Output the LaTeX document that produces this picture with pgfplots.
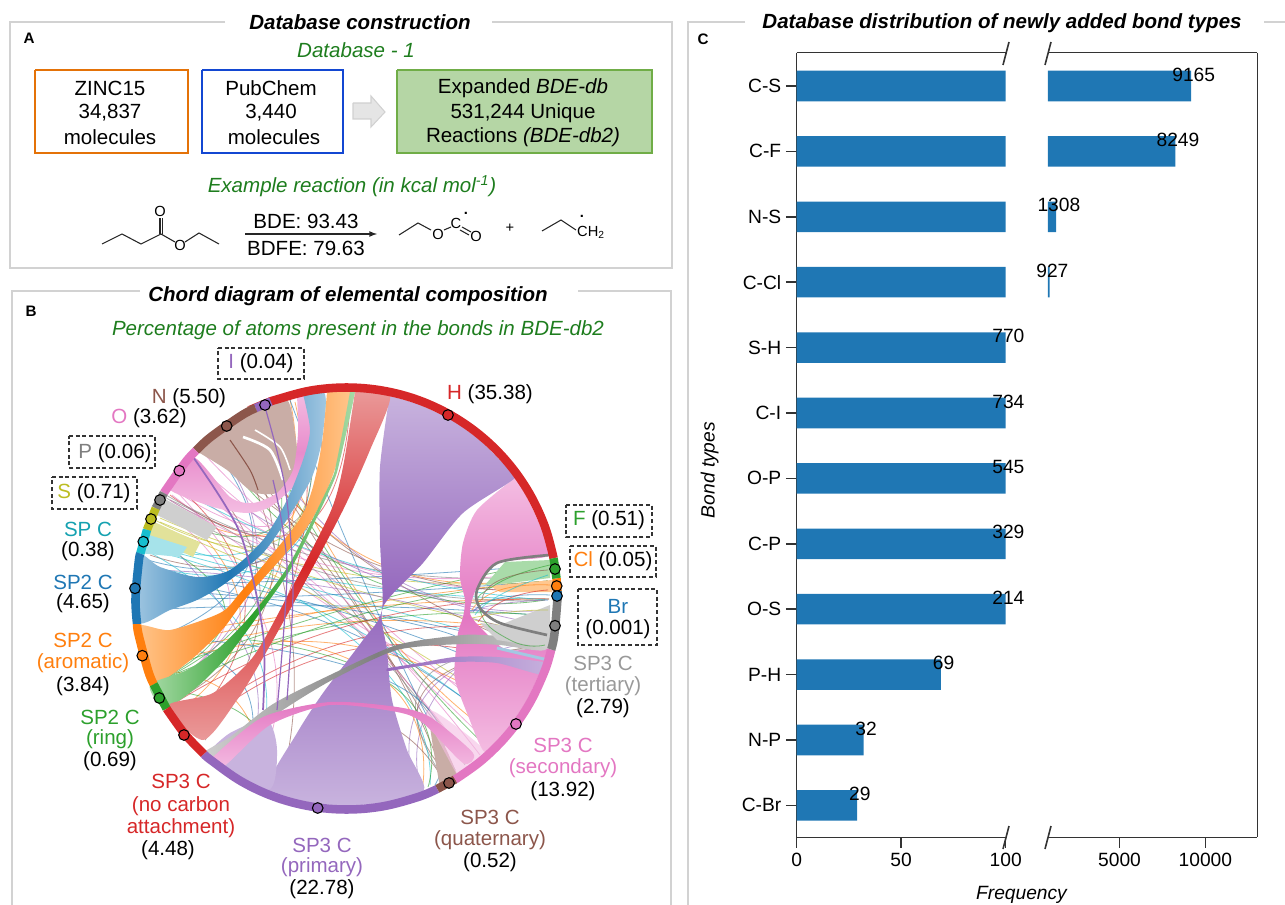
\documentclass[border=0pt]{standalone}
\usepackage{fontspec}
\setmainfont{Liberation Sans}
\usepackage{pgfplots}
\usepackage{pgfplotstable}
\pgfplotsset{compat=1.18}

\definecolor{cred}{HTML}{D62728}
\definecolor{cblue}{HTML}{1F77B4}
\definecolor{corange}{HTML}{FF7F0E}
\definecolor{cgreen}{HTML}{2CA02C}
\definecolor{cpurple}{HTML}{9467BD}
\definecolor{cbrown}{HTML}{8C564B}
\definecolor{cpink}{HTML}{E377C2}
\definecolor{cgray}{HTML}{7F7F7F}
\definecolor{colive}{HTML}{BCBD22}
\definecolor{ccyan}{HTML}{17BECF}
\definecolor{lred}{HTML}{EA9A9A}
\definecolor{lblue}{HTML}{A3C8E2}
\definecolor{lorange}{HTML}{FFC78F}
\definecolor{lgreen}{HTML}{A9DBA9}
\definecolor{lpurple}{HTML}{C8B3DE}
\definecolor{lbrown}{HTML}{C9ADA6}
\definecolor{lpink}{HTML}{F4BDE2}
\definecolor{lgray}{HTML}{CFCFCF}
\definecolor{lolive}{HTML}{E2E29A}
\definecolor{lcyan}{HTML}{A6E3EA}
\definecolor{frame}{HTML}{D2D2D2}
\definecolor{dkgreen}{HTML}{1E7D1E}
\definecolor{axcol}{HTML}{333333}

\newcommand\fa{\fontsize{15.4}{18}\selectfont}
\newcommand\fb{\fontsize{14.4}{17}\selectfont}
\newcommand\fc{\fontsize{11}{13}\selectfont}
\newcommand\tx[3]{\node[font=\fa,inner sep=0pt] at (axis cs:#1,#2) {#3};}
\newcommand\sm[3]{\node[font=\fc,inner sep=0pt] at (axis cs:#1,#2) {#3};}
\newcommand\ch[2]{\addplot[chord,draw=#1] coordinates {#2};}
\newcommand\mk[3]{\addplot[only marks,mark=*,mark size=4pt,mark options={fill=#1,draw=black,line width=.8pt}] coordinates {(#2,#3)};}
\newcommand\seg[2]{\addplot[draw=#1,line width=6.4pt,smooth,tension=.6] coordinates {#2};}
\newcommand\dbox[4]{\addplot[black!80,densely dashed,line width=.9pt] coordinates {(#1,#3)(#2,#3)(#2,#4)(#1,#4)(#1,#3)};}

\tikzset{
  chord/.style={smooth,tension=1,line width=.6pt,opacity=.6},
  rib/.style={draw=none,smooth,tension=.45},
  pan/.style={frame,line width=1.6pt},
  mol/.style={black!85,line width=.8pt},
}

% bars, left of the break: bar length is cut at 100
\pgfplotstableread{
y shown value
0 100 9165
1 100 8249
2 100 1308
3 100 927
}\barstop
\pgfplotstableread{
y shown value
4 100 770
5 100 734
6 100 545
7 100 329
8 100 214
9 69 69
10 32 32
11 29 29
}\barslow
\pgfplotstableread{
y value
0 9165
1 8249
2 1308
3 927
}\barsright

\begin{document}
\begin{tikzpicture}
\path[use as bounding box] (0,0) rectangle (963.75pt,678.75pt);
\begin{axis}[at={(0,0)},anchor=south west,scale only axis,width=963.75pt,height=678.75pt,
  xmin=0,xmax=1285,ymin=0,ymax=905,y dir=reverse,hide axis,clip=false]

% panel frames
\addplot[pan] coordinates {(225,22)(10,22)(10,268)(672,268)(672,22)(492,22)};
\addplot[pan] coordinates {(140,291)(12,291)(12,905)};
\addplot[pan] coordinates {(578,291)(671,291)(671,905)};
\addplot[pan] coordinates {(745,22)(688,22)(688,905)};
\addplot[pan] coordinates {(1264,22)(1285,22)};

% panel A
\tx{360}{22}{\textbf{\textit{Database construction}}}
\node[font=\fontsize{11.4}{13}\selectfont\bfseries] at (axis cs:29,38) {A};
\tx{356}{50}{\textcolor{dkgreen}{\textit{Database - 1}}}
\addplot[draw=corange!85!black!70!orange,line width=1.6pt] coordinates {(35,70)(188,70)(188,153)(35,153)(35,70)};
\addplot[draw=blue!40!cblue,line width=1.6pt] coordinates {(202,70)(343,70)(343,153)(202,153)(202,70)};
\addplot[draw={rgb,255:red,112;green,173;blue,71},fill={rgb,255:red,181;green,214;blue,165},line width=1.6pt] coordinates {(397,70)(652,70)(652,153)(397,153)(397,70)};
\addplot[draw=black!18,fill=black!10,line width=.8pt] coordinates {(353,103)(371,103)(371,96)(385,112)(371,127)(371,119)(353,119)(353,103)};
\tx{110}{88}{ZINC15}
\tx{110}{113}{34,837}
\tx{110}{137}{molecules}
\tx{271}{88}{PubChem}
\tx{271}{113}{3,440}
\tx{274}{137}{molecules}
\tx{523}{88}{Expanded \textit{BDE-db}}
\tx{523}{113}{531,244 Unique}
\tx{523}{137}{Reactions \textit{(BDE-db2)}}
\tx{352}{186}{\textcolor{dkgreen}{\textit{Example reaction (in kcal mol\textsuperscript{-1})}}}
% ester
\addplot[mol] coordinates {(102,244)(122,234)(141,244)(161,234)(175,242)};
\addplot[mol] coordinates {(185,242)(199,233)(219,244)};
\addplot[mol] coordinates {(160,234)(160,218)};
\addplot[mol] coordinates {(162.5,234)(162.5,218)};
\sm{160}{211}{O}
\sm{180}{245}{O}
\addplot[black!85,line width=1pt,-latex] coordinates {(245,234)(377,234)};
\tx{306}{221}{BDE: 93.43}
\tx{306}{248}{BDFE: 79.63}
% radicals
\addplot[mol] coordinates {(399,235)(418,223)(431,230)};
\addplot[mol] coordinates {(444,230)(451,227)};
\addplot[mol] coordinates {(462,227)(471,232)};
\addplot[mol] coordinates {(460,230)(469,235)};
\sm{438}{234}{O}
\sm{456}{223}{C}
\sm{476}{236}{O}
\node[font=\fc\bfseries,inner sep=0pt] at (axis cs:466,213) {.};
\sm{510}{228}{+}
\addplot[mol] coordinates {(542,231)(561,220)(576,230)};
\sm{591}{232}{CH\textsubscript{2}}
\node[font=\fc\bfseries,inner sep=0pt] at (axis cs:582,216) {.};

% panel B
\tx{348}{296}{\textbf{\textit{Chord diagram of elemental composition}}}
\node[font=\fontsize{11.4}{13}\selectfont\bfseries] at (axis cs:31,311) {B};
\tx{358}{330}{\textcolor{dkgreen}{\textit{Percentage of atoms present in the bonds in BDE-db2}}}

% thin chords
\ch{cgreen}{(160,515)(276,525)(285,402)}
\ch{ccyan}{(150,545)(275,535)(272,403)}
\ch{corange}{(165,505)(283,527)(295,402)}
\ch{cpink}{(175,490)(285,520)(305,400)}
\ch{cgray}{(165,497)(290,525)(320,398)}
\ch{colive}{(155,520)(285,535)(310,398)}
\ch{cblue}{(148,560)(284,545)(308,400)}
\ch{cbrown}{(150,555)(290,545)(330,397)}
\ch{cred}{(170,495)(300,530)(350,398)}
\ch{ccyan}{(148,565)(290,550)(325,398)}
\ch{corange}{(170,690)(278,570)(290,400)}
\ch{cgreen}{(160,680)(270,575)(265,410)}
\ch{cred}{(185,720)(290,590)(300,395)}
\ch{cbrown}{(175,700)(270,590)(240,425)}
\ch{cpurple}{(165,690)(255,575)(215,445)}
\ch{cblue}{(150,640)(250,560)(210,445)}
\ch{corange}{(165,500)(240,610)(180,710)}
\ch{cpink}{(160,510)(230,600)(165,690)}
\ch{cgreen}{(150,540)(225,610)(160,680)}
\ch{cred}{(175,485)(245,600)(190,725)}
\ch{cbrown}{(190,465)(260,590)(205,740)}
\ch{cpurple}{(155,530)(250,660)(240,765)}
\ch{cpink}{(175,490)(270,640)(255,775)}
\ch{cbrown}{(230,428)(290,620)(280,785)}
\ch{ccyan}{(145,550)(255,650)(250,770)}
\ch{cblue}{(150,640)(240,680)(245,770)}
\ch{corange}{(155,670)(235,700)(260,780)}
\ch{cgreen}{(165,690)(250,720)(275,785)}
\ch{cbrown}{(240,425)(360,610)(455,770)}
\ch{cbrown}{(230,430)(345,600)(470,760)}
\ch{cpink}{(185,480)(340,605)(490,745)}
\ch{cpink}{(195,465)(345,600)(480,755)}
\ch{cpink}{(205,455)(350,595)(505,725)}
\ch{cpink}{(172,495)(335,610)(512,715)}
\ch{cpink}{(180,485)(340,612)(470,762)}
\ch{cgray}{(170,500)(330,605)(465,765)}
\ch{cbrown}{(215,445)(355,605)(445,780)}
\ch{cgreen}{(250,415)(360,600)(485,745)}
\ch{corange}{(260,410)(370,610)(495,735)}
\ch{cblue}{(290,400)(372,600)(455,770)}
\ch{colive}{(160,518)(350,574)(548,581)}
\ch{colive}{(160,522)(349,588)(545,634)}
\ch{colive}{(158,526)(341,609)(512,714)}
\ch{ccyan}{(152,540)(348,584)(549,599)}
\ch{ccyan}{(151,546)(346,598)(542,651)}
\ch{ccyan}{(150,550)(336,619)(501,728)}
\ch{cblue}{(146,570)(342,612)(530,684)}
\ch{cblue}{(145,590)(345,609)(542,651)}
\ch{cblue}{(146,610)(346,606)(548,616)}
\ch{cblue}{(145,600)(346,594)(548,581)}
\ch{cblue}{(146,580)(335,626)(501,728)}
\ch{corange}{(147,640)(347,609)(549,599)}
\ch{corange}{(150,650)(348,607)(548,581)}
\ch{corange}{(152,660)(347,622)(545,634)}
\ch{corange}{(155,668)(340,644)(512,714)}
\ch{cgreen}{(158,672)(349,608)(545,563)}
\ch{cgreen}{(162,680)(351,623)(548,616)}
\ch{cgreen}{(168,692)(352,617)(548,581)}
\ch{cred}{(175,703)(354,624)(549,599)}
\ch{cred}{(190,725)(357,639)(545,634)}
\ch{cred}{(195,730)(356,649)(536,668)}
\ch{cgray}{(166,495)(350,565)(546,575)}
\ch{cgray}{(163,505)(350,580)(545,600)}
\ch{cpink}{(170,500)(350,570)(548,570)}
\ch{cpink}{(180,480)(350,565)(545,590)}
\ch{cbrown}{(210,450)(365,560)(548,590)}
\ch{cbrown}{(225,430)(370,565)(540,650)}
\ch{cpurple}{(245,420)(380,570)(545,610)}
\ch{cpurple}{(148,570)(345,590)(545,640)}
\ch{cgreen}{(215,445)(360,575)(545,600)}
\ch{corange}{(235,425)(372,560)(545,575)}
\ch{cblue}{(145,585)(350,578)(548,565)}
\ch{ccyan}{(180,490)(355,565)(548,600)}
\ch{cpurple}{(190,470)(360,570)(546,625)}
\ch{cpurple}{(415,790)(430,690)(545,640)}
\ch{cpurple}{(420,785)(440,690)(548,610)}
\ch{cbrown}{(448,775)(425,690)(545,645)}
\ch{cgray}{(445,780)(424,680)(545,650)}
\ch{ccyan}{(430,785)(400,690)(300,600)}
\ch{corange}{(422,790)(395,690)(280,640)}
\ch{cgreen}{(428,787)(398,690)(250,640)}
\ch{cblue}{(435,785)(405,690)(200,640)}
\ch{cbrown}{(220,763)(280,717)(330,710)(397,730)(443,780)}
\ch{cblue}{(383,617)(430,628)(455,636)}

% left fans
\addplot[fill=lgray,draw=none] coordinates {(163,498)(153,513)(207,540)(217,527)};
\addplot[fill=lolive,draw=none] coordinates {(150,520)(143,532)(193,557)(200,543)};
\addplot[fill=lcyan,draw=none] coordinates {(143,533)(138,553)(180,557)(187,547)};

% big ribbons: secondary-H and primary-H
\addplot[rib,top color=lpink,bottom color=lpink,middle color=cpink] coordinates {(514.8,478)(477,510)(463,543)(460,577)(465,600)(463,617)(458,633)(455,660)(455,680)(467,713)(485,752.3)(505,731.6)(525.8,702)(541,669.3)(547.3,648.6)(507,650)(483,630)(470,613)(477,587)(497,563)(549,555.5)(541,527.7)(525.8,495)(514.8,478)};
\addplot[rib,top color=lpurple,bottom color=lpurple,middle color=cpurple] coordinates {(389.5,396)(380,467)(380,540)(382,610)(363,640)(323,693)(297,733)(267,789.6)(310.6,802.4)(346.5,805.5)(382.4,802.4)(424,790.4)(407,750)(392,700)(387,650)(383,607)(423,563)(463,513)(514.8,478)(505,465.4)(479.6,440)(450,419.2)(417.3,404)(389.5,396)};
\addplot[rib,fill=lpurple] coordinates {(205,755)(268,790)(277,750)(267,720)(230,733)(205,755)};
\addplot[rib,fill=lbrown] coordinates {(440,787)(458,778)(430,720)(440,787)};
\addplot[rib,fill=lpink,opacity=.6] coordinates {(457,775)(485,752)(437,713)(427,717)(457,775)};

% brown blob and O band
\addplot[rib,fill=lbrown] coordinates {(198,452)(257,408)(287,400)(295,433)(297,467)(280,492)(253,492)(227,470)(198,452)};
\addplot[white,line width=2pt,smooth] coordinates {(243,437)(270,450)(283,480)};
\addplot[white,line width=1.2pt,smooth] coordinates {(255,430)(280,447)(290,470)};
\addplot[draw=cbrown,line width=.8pt,smooth] coordinates {(230,440)(250,470)(258,490)};
\addplot[rib,top color=lpink,bottom color=lpink,middle color=cpink!70!lpink] coordinates {(297,396)(298,433)(293,470)(277,493)(253,503)(230,497)(193,457)(167,487)(213,507)(247,513)(270,507)(293,487)(307,467)(312,433)(310,396)(297,396)};

% blue, orange, green and red bands
\addplot[rib,left color=lblue,right color=lblue,middle color=cblue] coordinates {(303,394)(310,430)(303,460)(287,500)(263,540)(230,570)(197,577)(160,567)(137,555)(137,622)(170,610)(197,600)(223,585)(263,553)(293,510)(312,477)(322,440)(325,394)(303,394)};
\addplot[rib,left color=lorange,right color=lorange,middle color=corange] coordinates {(327,392)(322,443)(312,490)(297,523)(240,593)(220,613)(170,630)(136,627)(150,684)(187,663)(222,630)(247,597)(303,533)(327,490)(343,443)(352,392)(327,392)};
\addplot[rib,left color=lgreen,right color=lgreen,middle color=cgreen] coordinates {(350,392)(337,460)(330,483)(290,563)(253,613)(220,647)(187,670)(150,685)(165,708)(197,687)(227,657)(257,617)(293,565)(332,485)(340,460)(355,392)(350,392)};
\addplot[rib,top color=lred,bottom color=lred,middle color=cred] coordinates {(355,392)(343,467)(330,513)(287,597)(253,657)(213,693)(168,706)(203,740)(237,700)(260,663)(297,597)(343,510)(370,450)(390,396)(355,392)};

% lower bands
\addplot[rib,left color=lgray,right color=lgray,middle color=cgray] coordinates {(548,625)(500,635)(463,635)(397,645)(330,675)(273,704)(230,737)(205,752)(217,762)(240,745)(277,714)(332,680)(397,650)(463,644)(500,645)(545,650)(548,625)};
\addplot[rib,top color=cpink,bottom color=lpink] coordinates {(213,757)(263,717)(330,702)(397,707)(430,717)(473,753)(463,763)(423,723)(397,712)(330,705)(270,725)(223,767)(213,757)};
\addplot[rib,left color=cpurple,right color=lpurple] coordinates {(388,668)(420,663)(455,657)(497,657)(547,663)(543,675)(497,663)(455,662)(420,666)(388,671)(388,668)};
\addplot[draw=cpurple,line width=1.3pt,smooth] coordinates {(193,457)(240,533)(263,633)(263,710)};
\addplot[draw=cpurple,line width=.9pt,smooth] coordinates {(273,480)(287,567)(277,710)};
\addplot[draw=cpurple,line width=.9pt,smooth] coordinates {(263,400)(285,487)(293,587)(287,700)};

% right side fans and arcs
\addplot[fill=lgreen,draw=none] coordinates {(550,560)(550,578)(510,583)(485,585)(505,562)};
\addplot[fill=lorange,draw=none] coordinates {(552,580)(552,592)(500,592)(490,586)};
\addplot[fill=lgray,draw=none] coordinates {(550,605)(550,648)(497,640)(480,623)(500,625)};
\addplot[draw=lblue,line width=2.2pt] coordinates {(497,648)(548,660)};
\addplot[chord,draw=cgreen] coordinates {(550,565)(495,585)(480,610)(510,640)(545,645)};
\addplot[chord,draw=corange] coordinates {(550,585)(500,590)(472,610)};
\addplot[chord,draw=cblue] coordinates {(550,595)(500,598)(473,612)};
\addplot[chord,draw=cpurple] coordinates {(548,600)(500,604)(470,612)};
\addplot[chord,draw=ccyan] coordinates {(548,575)(500,595)(475,615)};
\addplot[chord,draw=colive] coordinates {(548,610)(510,612)(472,618)};
\addplot[chord,draw=cred] coordinates {(548,590)(505,600)(478,622)};
\addplot[chord,draw=cbrown] coordinates {(548,570)(500,580)(482,600)};
\addplot[draw=cgray,line width=2pt,smooth] coordinates {(550,555)(497,563)(477,590)(480,608)(500,623)(547,635)};

% ring
\seg{cred}{(553.6,558.2)(544.8,526.3)(529.2,493.0)(508.1,462.9)(482.1,436.9)(452.0,415.8)(418.7,400.2)(383.1,390.7)(346.5,387.5)(309.9,390.7)(274.3,400.2)(270.9,401.5)}
\seg{cpurple}{(270.9,401.5)(255.6,408.1)}
\seg{cbrown}{(255.6,408.1)(241.0,415.8)(210.9,436.9)(196,450.6)}
\seg{cpink}{(196,450.6)(184.9,462.9)(163.8,493)}
\seg{cgray}{(163.8,493)(155.7,508.3)}
\seg{colive}{(155.7,508.3)(147,529.8)}
\seg{ccyan}{(147,529.8)(140.3,553.6)}
\seg{cblue}{(140.3,553.6)(138.7,561.9)(135.5,598.5)(137.1,624.2)}
\seg{corange}{(137.1,624.2)(138.7,635.1)(148.2,670.7)(153.7,684.3)}
\seg{cgreen}{(153.7,684.3)(166.6,708.7)}
\seg{cred}{(166.6,708.7)(184.9,734.1)(204,754.1)}
\seg{cpurple}{(204,754.1)(210.9,760.1)(241.0,781.2)(274.3,796.8)(309.9,806.3)(346.5,809.5)(383.1,806.3)(418.7,796.8)(437.3,788.9)}
\seg{cbrown}{(437.3,788.9)(455.2,779.4)}
\seg{cpink}{(455.2,779.4)(482.1,760.1)(508.1,734.1)(529.2,704.0)(544.8,670.7)(551.2,649.5)}
\seg{cgray}{(551.2,649.5)(554.3,635.1)(557.5,598.5)(557.4,593)}
\seg{cblue}{(557.4,593)(557.3,591.1)}
\seg{corange}{(557.3,591.1)(556.5,578.3)}
\seg{cgreen}{(556.5,578.3)(553.6,558.2)}

% ring markers
\mk{cred}{448}{415}
\mk{cgreen}{555}{569}
\mk{corange}{556.7}{586}
\mk{cblue}{557}{596}
\mk{cgray}{555}{625.7}
\mk{cpink}{516}{724}
\mk{cbrown}{449}{783}
\mk{cpurple}{317.7}{808}
\mk{cred}{184}{735}
\mk{cgreen}{159.3}{698}
\mk{corange}{142.3}{655.7}
\mk{cblue}{135}{588.3}
\mk{ccyan}{143.3}{541.7}
\mk{colive}{151}{519}
\mk{cgray}{160}{500}
\mk{cpink}{179.3}{470.7}
\mk{cbrown}{226.7}{426}
\mk{cpurple}{265}{405}

% chord labels
\dbox{218}{304}{348}{379}
\dbox{69}{155}{436}{468}
\dbox{52}{137}{477}{509}
\dbox{566}{652}{505}{537}
\dbox{570}{656}{546}{577}
\dbox{578}{657}{589}{645}
\tx{261}{363}{\textcolor{cpurple}{I} (0.04)}
\tx{189}{398}{\textcolor{cbrown}{N} (5.50)}
\tx{149}{418}{\textcolor{cpink}{O} (3.62)}
\tx{115}{453}{\textcolor{cgray}{P} (0.06)}
\tx{94}{493}{\textcolor{colive}{S} (0.71)}
\tx{490}{394}{\textcolor{cred}{H} (35.38)}
\tx{609}{520}{\textcolor{cgreen}{F} (0.51)}
\tx{613}{561}{\textcolor{corange}{Cl} (0.05)}
\tx{618}{606}{\textcolor{cblue}{Br}}
\tx{618}{629}{(0.001)}
\tx{88}{529}{\textcolor{ccyan!85!black}{SP C}}
\tx{88}{551}{(0.38)}
\tx{83}{582}{\textcolor{cblue}{SP2 C}}
\tx{83}{603}{(4.65)}
\tx{83}{640}{\textcolor{corange}{SP2 C}}
\tx{83}{663}{\textcolor{corange}{(aromatic)}}
\tx{83}{686}{(3.84)}
\tx{110}{717}{\textcolor{cgreen}{SP2 C}}
\tx{110}{739}{\textcolor{cgreen}{(ring)}}
\tx{110}{761}{(0.69)}
\tx{181}{781}{\textcolor{cred}{SP3 C}}
\tx{181}{806}{\textcolor{cred}{(no carbon}}
\tx{181}{828}{\textcolor{cred}{attachment)}}
\tx{168}{850}{(4.48)}
\tx{322}{845}{\textcolor{cpurple}{SP3 C}}
\tx{322}{867}{\textcolor{cpurple}{(primary)}}
\tx{322}{889}{(22.78)}
\tx{490}{817}{\textcolor{cbrown}{SP3 C}}
\tx{490}{840}{\textcolor{cbrown}{(quaternary)}}
\tx{490}{862}{(0.52)}
\tx{563}{745}{\textcolor{cpink}{SP3 C}}
\tx{563}{768}{\textcolor{cpink}{(secondary)}}
\tx{563}{791}{(13.92)}
\tx{603}{663}{\textcolor{black!40}{SP3 C}}
\tx{603}{686}{\textcolor{black!40}{(tertiary)}}
\tx{603}{708}{(2.79)}

% panel C heading and axis breaks
\tx{1002}{23}{\textbf{\textit{Database distribution of newly added bond types}}}
\node[font=\fontsize{11.4}{13}\selectfont\bfseries] at (axis cs:703,39) {C};
\addplot[axcol,line width=1.2pt] coordinates {(1003,65)(1009,42)};
\addplot[axcol,line width=1.2pt] coordinates {(1045,65)(1051,42)};
\addplot[axcol,line width=1.2pt] coordinates {(1003,849)(1009,826)};
\addplot[axcol,line width=1.2pt] coordinates {(1045,849)(1051,826)};
\end{axis}

% bars left of the break
\begin{axis}[at={(597.45pt,50.775pt)},anchor=south west,scale only axis,width=156.8pt,height=588.45pt,
  xmin=0,xmax=100,ymin=-0.509,ymax=11.488,y dir=reverse,
  axis x line*=box,axis y line*=left,axis line style={axcol,line width=1.1pt},
  xbar,bar width=22.9pt,
  xtick={0,50,100},ytick={0,...,11},
  yticklabels={C-S,C-F,N-S,C-Cl,S-H,C-I,O-P,C-P,O-S,P-H,N-P,C-Br},
  xtick pos=bottom,ytick pos=left,tick align=outside,major tick length=8pt,
  tick style={axcol,line width=1.1pt},
  tick label style={font=\fb},
  /pgf/number format/assume math mode=true,
  xlabel={\textit{Frequency}},ylabel={\textit{Bond types}},
  x label style={at={(rel axis cs:1.078,0)},anchor=north,yshift=-33pt,font=\fb},
  y label style={at={(rel axis cs:0,.468)},anchor=south,yshift=55pt,font=\fb},
]
\addplot[xbar,bar shift=0pt,fill=cblue,draw=none] table[x=shown,y=y] {\barstop};
\addplot[xbar,bar shift=0pt,fill=cblue,draw=none,point meta=explicit symbolic,
  nodes near coords,nodes near coords align={horizontal},
  every node near coord/.append style={font=\fb,black,xshift=2pt}]
  table[x=shown,y=y,meta=value] {\barslow};
\end{axis}

% bars right of the break
\begin{axis}[at={(785.9pt,50.775pt)},anchor=south west,scale only axis,width=157.1pt,height=588.45pt,
  xmin=822,xmax=13030,ymin=-0.509,ymax=11.488,y dir=reverse,
  axis x line*=box,axis y line*=right,axis line style={axcol,line width=1.1pt},
  xbar,bar width=22.9pt,
  xtick={5000,10000},ytick=\empty,
  xtick pos=bottom,tick align=outside,major tick length=8pt,
  tick style={axcol,line width=1.1pt},
  tick label style={font=\fb},
  scaled x ticks=false,
  /pgf/number format/1000 sep={},
  /pgf/number format/assume math mode=true,
]
\addplot[xbar,bar shift=0pt,fill=cblue,draw=none,point meta=explicit symbolic,
  nodes near coords,nodes near coords align={horizontal},
  every node near coord/.append style={font=\fb,black,xshift=2pt}]
  table[x=value,y=y,meta=value] {\barsright};
\end{axis}
\end{tikzpicture}
\end{document}
